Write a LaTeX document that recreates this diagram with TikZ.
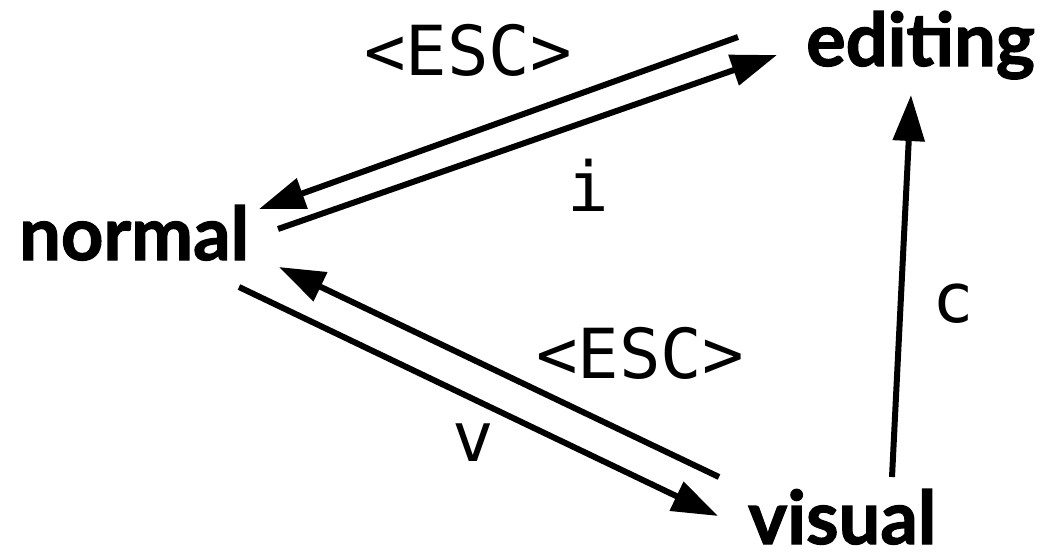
\documentclass[tikz,border=0pt]{standalone}
\usepackage{fontspec}
\setmainfont{Lato}[BoldFeatures={FakeBold=1.6}]
\setmonofont{DejaVu Sans Mono}
\usetikzlibrary{arrows.meta}
\begin{document}
\begin{tikzpicture}[x=1pt,y=-1pt,
  state/.style={font=\fontsize{74}{80}\selectfont\bfseries, inner sep=0pt, anchor=base west},
  key/.style={font=\fontsize{69}{72}\selectfont\ttfamily, inner sep=0pt, anchor=base},
  trans/.style={line width=6pt, -{Triangle[length=46pt,width=31pt]}}]
\useasboundingbox (0,0) rectangle (1047,552);
\node[state] (editing) at (806,66) {editing};
\node[state] (normal) at (19,260) {normal};
\node[state] (visual) at (748,544) {visual};
% connector end points
\coordinate (ne1) at (738,37);  \coordinate (ne2) at (259,209);
\coordinate (ni1) at (278,229); \coordinate (ni2) at (777,55);
\coordinate (vn1) at (719,477); \coordinate (vn2) at (279,267);
\coordinate (nv1) at (239,287); \coordinate (nv2) at (718,516);
\coordinate (ve1) at (892,477); \coordinate (ve2) at (911,95);
\draw[trans] (ne1) -- (ne2);
\draw[trans] (ni1) -- (ni2);
\draw[trans] (vn1) -- (vn2);
\draw[trans] (nv1) -- (nv2);
\draw[trans] (ve1) -- (ve2);
\node[key] (esc1) at (468,75) {<ESC>};
\node[key] (ilab) at (588,211) {i};
\node[key] (esc2) at (640,378) {<ESC>};
\node[key] (vlab) at (473,461) {v};
\node[key] (clab) at (953,322) {c};
\end{tikzpicture}
\end{document}
